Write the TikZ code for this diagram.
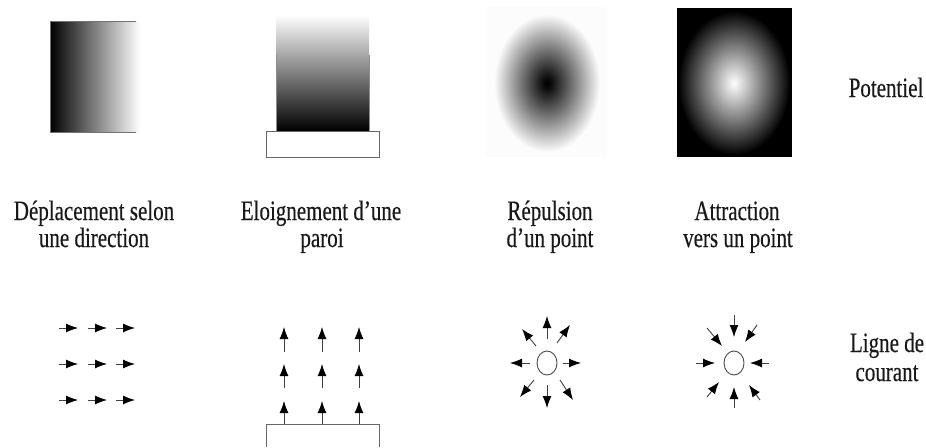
\documentclass[tikz,border=0pt]{standalone}
\usepackage{fontspec}
\setmainfont{Liberation Serif}[FakeStretch=0.75,FakeBold=0.35]
\usetikzlibrary{arrows.meta}
\pgfdeclareradialshading{darkcore}{\pgfpoint{0bp}{0bp}}{color(0bp)=(black); color(2bp)=(black!95); color(25bp)=(black!1); color(50bp)=(black!1)}
\pgfdeclareradialshading{lightcore}{\pgfpoint{0bp}{0bp}}{color(0bp)=(white); color(2bp)=(black!8); color(25bp)=(black); color(50bp)=(black)}
\tikzset{
  lbl/.style={font=\fontsize{28}{28}\selectfont, text=black!90, inner sep=0pt, anchor=base},
  arr/.style={-{Latex[length=12pt,width=9pt,fill=black,color=black]}, line width=0.9pt, draw=black!75},
  wallbox/.style={draw=black!60, line width=0.9pt, fill=white},
  hole/.style={draw=black!70, line width=0.9pt}
}
\begin{document}
\begin{tikzpicture}[x=1pt,y=-1pt]
\useasboundingbox (0,0) rectangle (926,447);
\fill[white] (0,0) rectangle (926,447);

% ---------- Potentials ----------
% panel 1 : displacement along a direction
\shade[left color=black, right color=white] (50,21) rectangle (140,132);
\draw[black!55, line width=0.6pt] (136,21) -- (50,21) -- (50,132) -- (136,132);

% panel 2 : away from a wall
\shade[top color=white, bottom color=black] (276,15) rectangle (369,131);
\draw[black!45, line width=0.6pt] (276,55) -- (276,131) (369,55) -- (369,131);
\draw[wallbox] (266,131) rectangle (379,157);

% panel 3 : repulsion from a point
\fill[black!1] (486,7) rectangle (607,157);
\shade[shading=darkcore] (547,83) ellipse [x radius=53pt, y radius=69pt];

% panel 4 : attraction towards a point
\fill[black] (677,8) rectangle (792,157);
\begin{scope}
  \clip (677,8) rectangle (792,157);
  \shade[shading=lightcore] (734,83) ellipse [x radius=56pt, y radius=72pt];
\end{scope}

\node[lbl] (pot) at (886,97) {Potentiel};

% ---------- Labels ----------
\node[lbl] (l1a) at (94,220) {Déplacement selon};
\node[lbl] (l1b) at (94,247) {une direction};
\node[lbl] (l2a) at (321,220) {Eloignement d’une};
\node[lbl] (l2b) at (322,247) {paroi};
\node[lbl] (l3a) at (550,220) {Répulsion};
\node[lbl] (l3b) at (550,247) {d’un point};
\node[lbl] (l4a) at (737,220) {Attraction};
\node[lbl] (l4b) at (738,247) {vers un point};

% ---------- Streamlines ----------
% panel 1 : uniform flow
\foreach \yy in {328,364,400}{
  \foreach \xx in {59,88,116}{
    \draw[arr] (\xx,\yy) -- ++(19,0);
  }
}

% panel 2 : flow away from wall
\draw[wallbox] (266,447) -- (266,424) -- (379,424) -- (379,447);
\foreach \xx in {284,322,359}{
  \draw[arr] (\xx,352) -- (\xx,327);
  \draw[arr] (\xx,388) -- (\xx,364);
  \draw[arr] (\xx,424) -- (\xx,401);
}

% panel 3 : source
\coordinate (c3) at (547,363);
\draw[hole] (c3) ellipse [x radius=10pt, y radius=12pt];
\foreach \ax/\ay/\bx/\by in {16/0/34/0, -17/0/-37/0, 0/-24/0/-47, 0/22/0/45,
                             10/-20/23/-38, -11/-17/-25/-34, -13/17/-27/34, 13/17/26/37}{
  \draw[arr] ([shift={(\ax,\ay)}]c3) -- ([shift={(\bx,\by)}]c3);
}

% panel 4 : sink
\coordinate (c4) at (734,363);
\draw[hole] (c4) ellipse [x radius=10pt, y radius=12pt];
\foreach \ax/\ay/\bx/\by in {0/-48/0/-26, 0/45/0/24, -38/0/-19/0, 35/0/16/0,
                             -27/-35/-12/-17, 23/-38/11/-21, -27/34/-15/19, 26/37/15/22}{
  \draw[arr] ([shift={(\ax,\ay)}]c4) -- ([shift={(\bx,\by)}]c4);
}

\node[lbl] (lc1) at (887,352) {Ligne de};
\node[lbl] (lc2) at (887,381) {courant};
\end{tikzpicture}
\end{document}
